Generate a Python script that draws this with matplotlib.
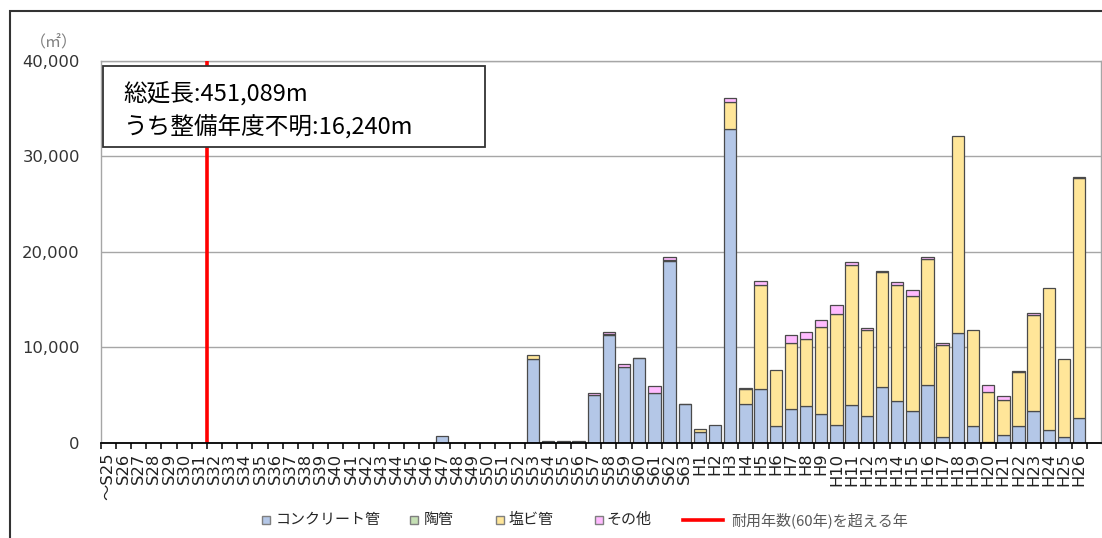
import matplotlib
matplotlib.use("Agg")
import matplotlib.pyplot as plt
from matplotlib.patches import Rectangle
from matplotlib.lines import Line2D
from matplotlib.ticker import FuncFormatter, FixedLocator
import numpy as np

# ---------------- data ----------------
categories = [
    "～S25", "S26", "S27", "S28", "S29", "S30", "S31", "S32", "S33", "S34",
    "S35", "S36", "S37", "S38", "S39", "S40", "S41", "S42", "S43", "S44",
    "S45", "S46", "S47", "S48", "S49", "S50", "S51", "S52", "S53", "S54",
    "S55", "S56", "S57", "S58", "S59", "S60", "S61", "S62", "S63",
    "H1", "H2", "H3", "H4", "H5", "H6", "H7", "H8", "H9", "H10",
    "H11", "H12", "H13", "H14", "H15", "H16", "H17", "H18", "H19", "H20",
    "H21", "H22", "H23", "H24", "H25", "H26",
]

concrete = [
    0, 0, 0, 0, 0, 0, 0, 0, 0, 0,
    0, 0, 0, 0, 0, 0, 0, 0, 0, 0,
    0, 0, 700, 0, 0, 0, 0, 0, 8750, 250,
    230, 170, 5000, 11300, 8000, 8850, 5250, 19000, 4050,
    1200, 1850, 32800, 4100, 5650, 1800, 3600, 3850, 3000, 1900,
    3950, 2800, 5900, 4350, 3350, 6050, 650, 11500, 1750, 150,
    850, 1750, 3300, 1400, 600, 2600,
]

ceramic = [
    0, 0, 0, 0, 0, 0, 0, 0, 0, 0,
    0, 0, 0, 0, 0, 0, 0, 0, 0, 0,
    0, 0, 0, 0, 0, 0, 0, 0, 0, 0,
    0, 0, 0, 0, 0, 80, 0, 0, 80,
    0, 0, 0, 0, 0, 0, 0, 0, 0, 0,
    0, 0, 0, 0, 0, 0, 0, 0, 0, 0,
    0, 0, 0, 0, 0, 0,
]

pvc = [
    0, 0, 0, 0, 0, 0, 0, 0, 0, 0,
    0, 0, 0, 0, 0, 0, 0, 0, 0, 0,
    0, 0, 0, 0, 0, 0, 0, 0, 450, 0,
    0, 0, 0, 100, 0, 0, 0, 150, 0,
    250, 0, 2850, 1600, 10850, 5800, 6850, 7000, 9100, 11550,
    14700, 9000, 11950, 12150, 12000, 13200, 9550, 20600, 10050, 5200,
    3650, 5700, 10100, 14800, 8200, 25100,
]

other = [
    0, 0, 0, 0, 0, 0, 0, 0, 0, 0,
    0, 0, 0, 0, 0, 0, 0, 0, 0, 0,
    0, 0, 0, 0, 0, 0, 0, 0, 0, 0,
    0, 0, 200, 250, 300, 0, 750, 300, 0,
    0, 0, 400, 100, 420, 0, 850, 800, 750, 1000,
    300, 250, 100, 300, 650, 250, 300, 0, 0, 700,
    400, 100, 150, 0, 0, 100,
]

series_names = ["コンクリート管", "陶管", "塩ビ管", "その他"]
limit_label = "耐用年数(60年)を超える年"
limit_position = 6.5  # boundary between S31 and S32
box_lines = ["総延長:451,089m", "うち整備年度不明:16,240m"]
unit_label = "（㎡）"
yticks = [0, 10000, 20000, 30000, 40000]

# ---------------- style ----------------
colors = ["#B4C7E7", "#C5E0B4", "#FFE699", "#FFBBFF"]
edge = "#4a4a4a"
CJK = ["Noto Sans CJK JP", "DejaVu Sans"]
LAT = ["DejaVu Sans", "Noto Sans CJK JP"]

W, H = 1102, 538
fig = plt.figure(figsize=(W / 100, H / 100), dpi=100)


def fx(px):
    return px / W


def fy(py):
    return 1 - py / H


ax = fig.add_axes([fx(100.7), fy(443), fx(1101) - fx(100.7), fy(60.6) - fy(443)])

x = np.arange(len(categories))
bottom = np.zeros(len(categories))
for vals, col in zip([concrete, ceramic, pvc, other], colors):
    vals = np.array(vals, dtype=float)
    lw = [0.9 if v > 0 else 0 for v in vals]
    ax.bar(x, vals, width=0.82, bottom=bottom, color=col,
           edgecolor=edge, linewidth=lw, zorder=2)
    bottom += vals

ax.axvline(limit_position, color="#FF0000", lw=2.6, zorder=3)

ax.set_xlim(-0.5, -0.5 + (1101 - 100.7) / 15.17)
ax.set_ylim(0, 40000)

ax.set_yticks(yticks)
ax.yaxis.set_major_formatter(FuncFormatter(lambda v, p: f"{int(v):,}"))
ax.tick_params(axis="y", length=0, pad=15, labelsize=11.8, labelcolor="#333333")
for lab in ax.get_yticklabels():
    lab.set_family(LAT)

ax.yaxis.grid(True, color="#a6a6a6", lw=1.0, zorder=0)
ax.set_axisbelow(True)

ax.xaxis.set_major_locator(FixedLocator(x))
ax.set_xticklabels(categories, rotation=90, family=LAT, fontsize=11.8,
                   color="#202020", va="top", ha="center")
ax.xaxis.set_minor_locator(FixedLocator(np.arange(-0.5, len(categories), 1.0)))
ax.tick_params(axis="x", which="major", length=0, pad=7)
ax.tick_params(axis="x", which="minor", length=4.5, width=1.1, color="black",
               direction="out")

for s in ["left", "top", "right"]:
    ax.spines[s].set_color("#a6a6a6")
    ax.spines[s].set_linewidth(1.0)
ax.spines["bottom"].set_color("black")
ax.spines["bottom"].set_linewidth(1.3)
ax.spines["bottom"].set_zorder(4)

# unit label
fig.text(fx(54), fy(43), unit_label, ha="center", va="center",
         fontsize=11.5, color="#7f7f7f", family=CJK)

# annotation box
box = Rectangle((fx(102.7), fy(146.7)), fx(485) - fx(102.7), fy(65.7) - fy(146.7),
                transform=fig.transFigure, facecolor="white", edgecolor="#333333",
                lw=1.3, zorder=5)
fig.add_artist(box)
fig.text(fx(123), fy(93.5), box_lines[0], ha="left", va="center", fontsize=17,
         family=CJK, color="black", zorder=6)
fig.text(fx(123), fy(127), box_lines[1], ha="left", va="center", fontsize=17,
         family=CJK, color="black", zorder=6)

# outer chart border
border = Rectangle((fx(9.5), -0.2), 1.5, fy(10.5) + 0.2, transform=fig.transFigure,
                   facecolor="none", edgecolor="#333333", lw=1.5, zorder=10)
fig.add_artist(border)

# legend (manual layout)
ly = fy(520)
sq_x = [265.5, 413.5, 499.5, 598.5]
tx_x = [276, 424, 509, 606]
for name, col, sx, tx in zip(series_names, colors, sq_x, tx_x):
    fig.add_artist(Line2D([fx(sx)], [ly], marker="s", markersize=6.2, linestyle="none",
                          markerfacecolor=col, markeredgecolor="#7f7f7f",
                          markeredgewidth=1.0, transform=fig.transFigure))
    fig.text(fx(tx), ly, name, ha="left", va="center", fontsize=10.8,
             family=CJK, color="#262626")
fig.add_artist(Line2D([fx(683), fx(723)], [ly, ly], color="#FF0000", lw=2.6,
                      transform=fig.transFigure))
fig.text(fx(731), ly, limit_label, ha="left", va="center", fontsize=10.8,
         family=CJK, color="#595959")

fig.savefig("out.png", dpi=100)
